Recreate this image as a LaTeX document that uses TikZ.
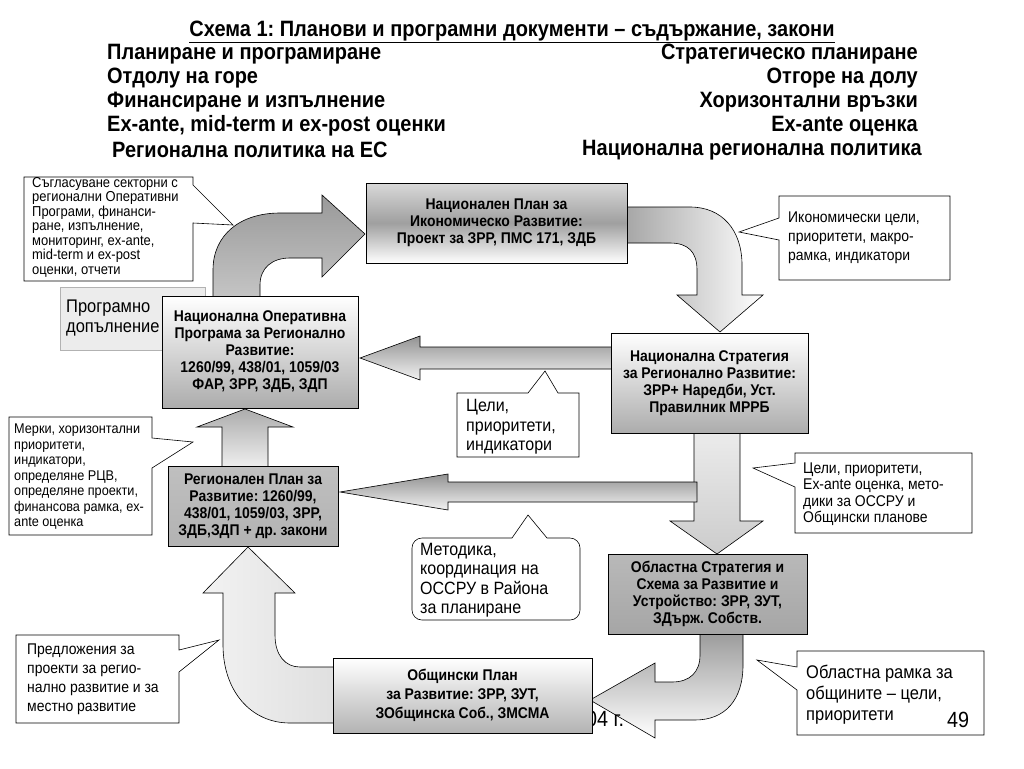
\documentclass[tikz,border=0pt]{standalone}
\usepackage{fontspec}
\setmainfont{Liberation Sans}[FakeStretch=0.9]
\usepackage{tikz}
\frenchspacing

\tikzset{
  plan/.style={draw, line width=0.8pt, align=center, inner sep=0pt,
    font=\bfseries\fontsize{15.5}{17}\selectfont},
  note/.style={draw, fill=white, line width=0.6pt},
  notetext/.style={anchor=west, align=left, inner sep=0pt},
  flow/.style={draw, line width=0.6pt},
  head/.style={font=\bfseries\fontsize{22.2}{24}\selectfont, inner sep=0pt},
}

\begin{document}
\begin{tikzpicture}[x=1pt,y=-1pt]
\path[fill=white,use as bounding box] (0,0) rectangle (1024,768);
% title and headings
\node[head] (title) at (512,32) {\underline{Схема 1: Планови и програмни документи – съдържание, закони}};
\node[head,anchor=west] (l1) at (107,54) {Планиране и програмиране};
\node[head,anchor=west] (l2) at (107,78) {Отдолу на горе};
\node[head,anchor=west] (l3) at (107,102) {Финансиране и изпълнение};
\node[head,anchor=west] (l4) at (107,126) {Ex-ante, mid-term и ex-post оценки};
\node[head,anchor=west] (l5) at (112,150) {Регионална политика на ЕС};
\node[head,anchor=east] (r1) at (918,54) {Стратегическо планиране};
\node[head,anchor=east] (r2) at (918,78) {Отгоре на долу};
\node[head,anchor=east] (r3) at (918,102) {Хоризонтални връзки};
\node[head,anchor=east] (r4) at (918,126) {Ex-ante оценка};
\node[head,anchor=east] (r5) at (922,150) {Национална регионална политика};
%
\draw[draw=gray!60, fill=gray!15] (60,287) rectangle (205,350);
\node[notetext, font=\fontsize{18.3}{20}\selectfont] (addon) at (66,318) {Програмно\\допълнение};
% block arrows
\path[flow, top color=gray!80, bottom color=gray!45]
  (213,300) -- (213,270) .. controls (213,235) and (240,213) .. (280,213) -- (322,213)
  -- (322,195) -- (365,234) -- (322,277) -- (322,258) -- (290,258)
  .. controls (272,258) and (260,268) .. (260,285) -- (260,300) -- cycle;
\path[flow, left color=gray!75, right color=white]
  (615,207) -- (690,207) .. controls (722,207) and (742,230) .. (742,265) -- (742,295)
  -- (763,295) -- (720,332) -- (677,295) -- (697,295) -- (697,270)
  .. controls (697,252) and (688,243) .. (670,243) -- (615,243) -- cycle;
\path[flow, top color=gray!85, bottom color=gray!10]
  (615,347) -- (420,347) -- (420,336) -- (360,358) -- (420,380) -- (420,369) -- (615,369) -- cycle;
\path[flow, top color=gray!15, middle color=gray!70, bottom color=gray!40]
  (694,430) -- (694,521) -- (670,521) -- (717,554) -- (763,521) -- (740,521) -- (740,430) -- cycle;
\path[flow, top color=gray!85, bottom color=gray!10]
  (697,482) -- (448,482) -- (448,474) -- (340,492) -- (448,510) -- (448,502) -- (697,502) -- cycle;
\path[flow, top color=gray!65, bottom color=gray!10]
  (222,470) -- (222,427) -- (197,427) -- (245,409) -- (293,427) -- (268,427) -- (268,470) -- cycle;
\path[flow, left color=gray!10, middle color=gray!80, right color=gray!25]
  (336,667) -- (300,667) .. controls (285,667) and (275,655) .. (275,635) -- (275,593)
  -- (295,593) -- (248,547) -- (203,593) -- (223,593) -- (223,645)
  .. controls (223,690) and (250,723) .. (290,723) -- (336,723) -- cycle;
\path[flow, top color=gray!80, bottom color=white]
  (700,630) -- (700,655) .. controls (700,672) and (690,682) .. (672,682) -- (655,682)
  -- (655,663) -- (590,700) -- (655,738) -- (655,720) -- (695,720)
  .. controls (725,720) and (743,700) .. (743,665) -- (743,630) -- cycle;
\node[anchor=west, inner sep=0pt, text=black, font=\fontsize{22}{24}\selectfont] (year) at (586,719) {04 г.};
% plan boxes
\node[plan, minimum width=261pt, minimum height=80pt, top color=gray!30, bottom color=white, middle color=gray!75] (npir) at (496.5,223)
  {Национален План за\\Икономическо Развитие:\\Проект за ЗРР, ПМС 171, ЗДБ};
\node[plan, minimum width=196pt, minimum height=112pt, top color=white, bottom color=gray!65] (noprr) at (260,352)
  {Национална Оперативна\\Програма за Регионално\\Развитие:\\1260/99, 438/01, 1059/03\\ФАР, ЗРР, ЗДБ, ЗДП};
\node[plan, minimum width=197pt, minimum height=100pt, top color=white, bottom color=gray!65] (nsrr) at (709.5,383)
  {Национална Стратегия\\за Регионално Развитие:\\ЗРР+ Наредби, Уст.\\Правилник МРРБ};
\node[plan, minimum width=170pt, minimum height=80pt, top color=gray!50, middle color=white, bottom color=gray!60] (rpr) at (253,506)
  {Регионален План за\\Развитие: 1260/99,\\438/01, 1059/03, ЗРР,\\ЗДБ,ЗДП + др. закони};
\node[plan, minimum width=199pt, minimum height=80pt, top color=gray!55, middle color=gray!35, bottom color=gray!70] (ossru) at (707.5,594)
  {Областна Стратегия и\\Схема за Развитие и\\Устройство: ЗРР, ЗУТ,\\ЗДърж. Собств.};
\node[plan, minimum width=259pt, minimum height=75pt, top color=white, bottom color=gray!60,
  font=\bfseries\fontsize{15.5}{19}\selectfont] (opr) at (462.5,695.5)
  {Общински План\\за Развитие: ЗРР, ЗУТ,\\ЗОбщинска Соб., ЗМСМА};
% callouts
\draw[note] (24,177) -- (193,177) -- (193,185) -- (233,225) -- (193,223) -- (193,281) -- (24,281) -- cycle;
\node[notetext, font=\fontsize{14.4}{14.5}\selectfont] (coord) at (32,227)
  {Съгласуване секторни с\\регионални Оперативни\\Програми, финанси-\\ране, изпълнение,\\мониторинг, ex-ante,\\mid-term и ex-post\\оценки, отчети};
\draw[note] (779,196) -- (950,196) -- (950,280) -- (779,280) -- (779,240) -- (739,232) -- (779,218) -- cycle;
\node[notetext, font=\fontsize{15.5}{19}\selectfont] (econ) at (788,238)
  {Икономически цели,\\приоритети, макро-\\рамка, индикатори};
\draw[note] (457,393) -- (528,393) -- (545,371) -- (558,393) -- (579,393) -- (579,457) -- (457,457) -- cycle;
\node[notetext, font=\fontsize{17.8}{19.5}\selectfont] (goals) at (466,427)
  {Цели,\\приоритети,\\индикатори};
\draw[note] (795,453) -- (972,453) -- (972,533) -- (795,533) -- (795,487) -- (753,468) -- (795,463) -- cycle;
\node[notetext, font=\fontsize{15.5}{16.5}\selectfont] (exante) at (803,494)
  {Цели, приоритети,\\Ex-ante оценка, мето-\\дики за ОССРУ и\\Общински планове};
\draw[note] (9,417) -- (152,417) -- (152,438) -- (193,442) -- (152,468) -- (152,535) -- (9,535) -- cycle;
\node[notetext, font=\fontsize{14.1}{15.5}\selectfont] (measures) at (14,477)
  {Мерки, хоризонтални\\приоритети,\\индикатори,\\определяне РЦВ,\\определяне проекти,\\финансова рамка, ex-\\ante оценка};
\draw[note] (547,538) [rounded corners=10pt] -- (580,538) -- (580,620) -- (412,620) -- (412,538) -- (500,538)
  [sharp corners] -- (512,538) -- (528,515) -- cycle;
\node[notetext, font=\fontsize{17.8}{19.5}\selectfont] (method) at (420,580)
  {Методика,\\координация на\\ОССРУ в Района\\за планиране};
\draw[note] (16,635) -- (179,635) -- (179,650) -- (219,640) -- (179,672) -- (179,723) -- (16,723) -- cycle;
\node[notetext, font=\fontsize{15.5}{19}\selectfont] (proposals) at (27,679)
  {Предложения за\\проекти за регио-\\нално развитие и за\\местно развитие};
\draw[note] (797,651) -- (984,651) -- (984,735) -- (797,735) -- (797,690) -- (757,660) -- (797,667) -- cycle;
\node[notetext, font=\fontsize{18.3}{21}\selectfont] (frame) at (806,695)
  {Областна рамка за\\общините – цели,\\приоритети};
\node[inner sep=0pt, font=\fontsize{22}{24}\selectfont] (page) at (958,720) {49};
\end{tikzpicture}
\end{document}
